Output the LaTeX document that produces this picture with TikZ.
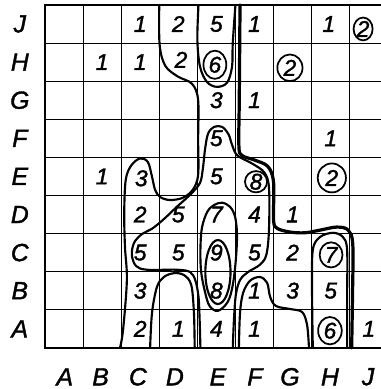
\documentclass[tikz,border=0pt]{standalone}
\usepackage{fontspec}
\setmainfont{Liberation Sans}[ItalicFeatures={FakeBold=1.5}]
\usetikzlibrary{positioning}

\begin{document}
\begin{tikzpicture}[
  val/.style={font=\fontsize{17}{17}\selectfont\itshape},
  axislabel/.style={font=\fontsize{18.5}{18.5}\selectfont\itshape},
  isoline/.style={line width=1.6pt,line join=round,line cap=round},
  ring/.style={line width=1.3pt}]
\useasboundingbox (-1.18,-1.08) rectangle (8.82,9.13);
% grid and frame
\draw[line width=0.6pt] (0,0) grid (9,9);
\draw[line width=2pt] (9,0) -- (0,0) -- (0,9) -- (9,9);

% row labels
\node[axislabel] (rJ) at (-0.66,8.5) {J};
\node[axislabel] (rH) at (-0.66,7.5) {H};
\node[axislabel] (rG) at (-0.66,6.5) {G};
\node[axislabel] (rF) at (-0.66,5.5) {F};
\node[axislabel] (rE) at (-0.66,4.5) {E};
\node[axislabel] (rD) at (-0.66,3.5) {D};
\node[axislabel] (rC) at (-0.66,2.5) {C};
\node[axislabel] (rB) at (-0.66,1.5) {B};
\node[axislabel] (rA) at (-0.66,0.5) {A};
% column labels
\node[axislabel] (cA) at (0.52,-0.76) {A};
\node[axislabel] (cB) at (1.46,-0.76) {B};
\node[axislabel] (cC) at (2.44,-0.76) {C};
\node[axislabel] (cD) at (3.41,-0.76) {D};
\node[axislabel] (cE) at (4.54,-0.76) {E};
\node[axislabel] (cF) at (5.51,-0.76) {F};
\node[axislabel] (cG) at (6.43,-0.76) {G};
\node[axislabel] (cH) at (7.48,-0.76) {H};
\node[axislabel] (cJ) at (8.48,-0.76) {J};

% values, row J
\node[val] (vCJ) at (2.5,8.5) {1};
\node[val] (vDJ) at (3.5,8.5) {2};
\node[val] (vEJ) at (4.5,8.5) {5};
\node[val] (vFJ) at (5.5,8.5) {1};
\node[val] (vHJ) at (7.45,8.5) {1};
\node[val] (vJJ) at (8.35,8.37) {2};
% row H
\node[val] (vBH) at (1.5,7.5) {1};
\node[val] (vCH) at (2.5,7.5) {1};
\node[val] (vDH) at (3.57,7.56) {2};
\node[val] (vEH) at (4.46,7.43) {6};
\node[val] (vGH) at (6.43,7.35) {2};
% row G
\node[val] (vEG) at (4.5,6.5) {3};
\node[val] (vFG) at (5.5,6.5) {1};
% row F
\node[val] (vEF) at (4.5,5.5) {5};
\node[val] (vHF) at (7.5,5.5) {1};
% row E
\node[val] (vBE) at (1.5,4.5) {1};
\node[val] (vCE) at (2.53,4.45) {3};
\node[val] (vEE) at (4.5,4.5) {5};
\node[val] (vFE) at (5.54,4.36) {8};
\node[val] (vHE) at (7.53,4.46) {2};
% row D
\node[val] (vCD) at (2.5,3.5) {2};
\node[val] (vDD) at (3.5,3.5) {5};
\node[val] (vED) at (4.5,3.5) {7};
\node[val] (vFD) at (5.5,3.5) {4};
\node[val] (vGD) at (6.5,3.5) {1};
% row C
\node[val] (vCC) at (2.5,2.5) {5};
\node[val] (vDC) at (3.5,2.5) {5};
\node[val] (vEC) at (4.5,2.5) {9};
\node[val] (vFC) at (5.5,2.5) {5};
\node[val] (vGC) at (6.5,2.5) {2};
\node[val] (vHC) at (7.51,2.44) {7};
% row B
\node[val] (vCB) at (2.5,1.5) {3};
\node[val] (vEB) at (4.5,1.5) {8};
\node[val] (vFB) at (5.5,1.5) {1};
\node[val] (vGB) at (6.5,1.5) {3};
\node[val] (vHB) at (7.5,1.5) {5};
% row A
\node[val] (vCA) at (2.5,0.5) {2};
\node[val] (vDA) at (3.5,0.5) {1};
\node[val] (vEA) at (4.5,0.5) {4};
\node[val] (vFA) at (5.5,0.5) {1};
\node[val] (vHA) at (7.48,0.45) {6};
\node[val] (vJA) at (8.5,0.5) {1};

% rings round single values
\draw[ring] (vJJ) ellipse (0.25 and 0.3);
\draw[ring] (vEH) ellipse (0.3 and 0.37);
\draw[ring] (vGH) ellipse (0.33 and 0.35);
\draw[ring] (vFE) ellipse (0.29 and 0.28);
\draw[ring] (vHE) ellipse (0.37 and 0.38);
\draw[ring] (vHC) ellipse (0.3 and 0.33);
\draw[ring] (vHA) ellipse (0.31 and 0.36);

% outer line, left side
\draw[isoline] plot[smooth,tension=0.55] coordinates {(3,9) (3.01,7.95) (3.16,7.40) (3.49,7.12) (3.86,6.93) (4.02,6.51) (4.02,5.46) (4.02,4.54) (3.88,4.15) (3.62,3.94) (3.28,3.88) (3.02,3.96) (2.89,4.15) (2.81,4.49) (2.70,4.88) (2.49,4.97) (2.26,4.78) (2.12,4.41) (2.08,3.54) (2.10,2.65) (2.15,1.78) (2.05,0.47) (1.97,0)};
% loop round the 6 at the top
\draw[isoline] plot[smooth,tension=0.55] coordinates {(4.03,9) (4.0,8.08) (4.07,7.38) (4.25,6.98) (4.51,6.85) (4.78,6.96) (4.91,7.38) (4.93,8.01) (5.0,9)};
% outer line, right side
\draw[isoline,line width=2.4pt] plot[smooth,tension=0.55] coordinates {(5.12,9) (5.10,6.5) (5.09,5.3) (5.17,5.05) (5.5,4.93) (5.85,4.76) (6.0,4.35) (6.0,3.36) (6.09,3.14) (6.43,3.04) (6.82,3.02) (7.22,3.09) (7.66,3.17) (7.96,3.09) (8.08,2.70) (8.07,1.26) (8.05,0)};
% middle line
\draw[isoline] plot[smooth,tension=0.55] coordinates {(4.08,0) (4.06,0.73) (4.03,1.34) (3.95,1.76) (3.81,1.99) (3.46,2.05) (2.68,2.05) (2.39,2.15) (2.28,2.44) (2.34,2.76) (2.55,2.99) (2.80,3.12) (3.10,3.36) (3.46,3.70) (3.81,4.02) (4.07,4.33) (4.15,4.75) (4.20,5.20) (4.28,5.62) (4.44,5.80) (4.65,5.80) (4.82,5.60) (4.91,5.33) (5.05,5.05) (5.45,4.83) (5.76,4.6) (5.88,4.2) (5.88,3.10) (5.81,2.44) (5.64,2.18) (5.33,1.99) (5.12,1.78) (5.01,1.39) (4.96,0.73) (4.93,0)};
% low pockets
\draw[isoline] plot[smooth,tension=0.55] coordinates {(2.76,0) (2.81,0.92) (2.94,1.60) (3.12,1.86) (3.39,1.96) (3.65,1.91) (3.84,1.65) (3.91,0.92) (3.93,0)};
\draw[isoline] plot[smooth,tension=0.55] coordinates {(5.09,0) (5.12,0.92) (5.20,1.44) (5.38,1.76) (5.64,1.86) (5.83,1.71) (5.91,1.34) (6.06,1.10) (6.43,1.02) (6.75,0.94) (6.88,0.60) (6.93,0)};
% pocket in column H
\draw[isoline] plot[smooth,tension=0.55] coordinates {(7.03,0) (7.01,1.52) (7.03,2.57) (7.22,2.91) (7.56,3.02) (7.82,2.91) (7.93,2.57) (7.93,1.26) (7.93,0)};
% high core
\draw[isoline] plot[smooth cycle,tension=0.55] coordinates {(4.65,3.81) (4.86,3.70) (4.99,3.44) (5.04,2.97) (5.01,2.31) (4.93,1.65) (4.80,1.21) (4.54,0.97) (4.32,1.10) (4.20,1.47) (4.10,1.99) (4.08,2.57) (4.12,3.15) (4.26,3.57) (4.44,3.75)};
\draw[isoline] (4.54,1.99) ellipse (0.33 and 0.84);

\end{tikzpicture}
\end{document}
